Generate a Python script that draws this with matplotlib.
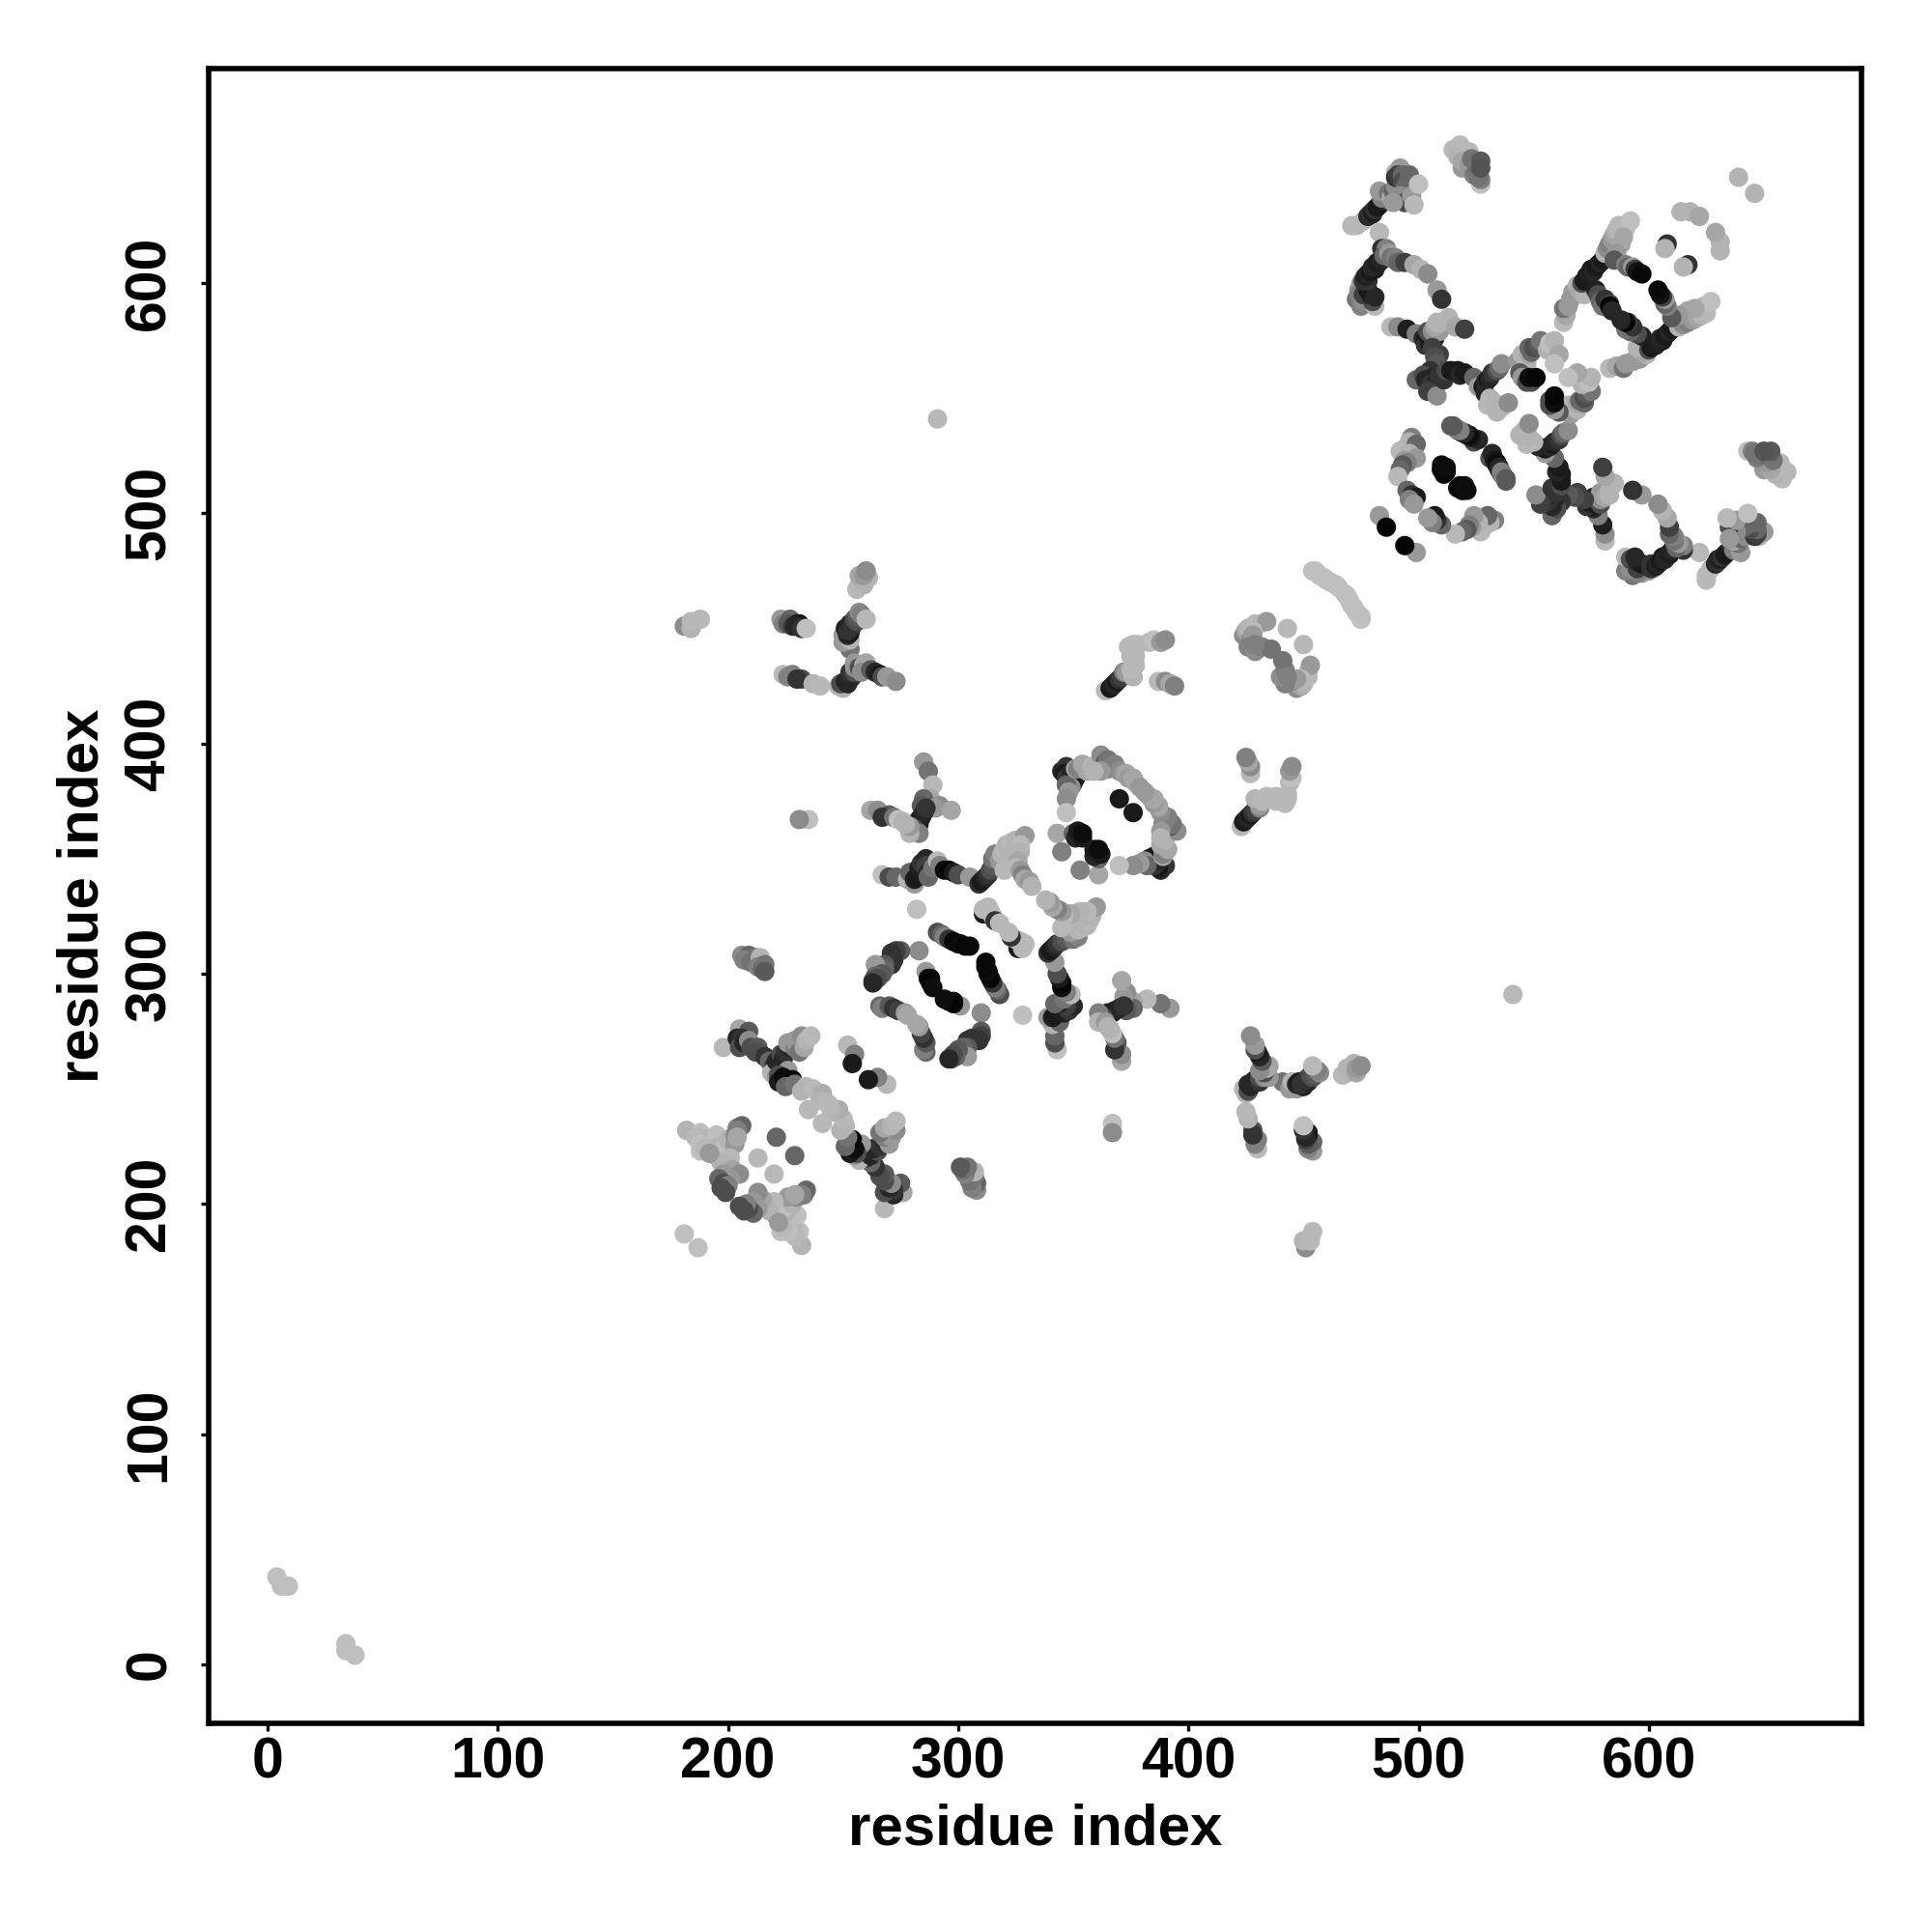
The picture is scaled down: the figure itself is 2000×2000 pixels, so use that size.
import matplotlib
matplotlib.use("Agg")
import matplotlib.pyplot as plt

# residue contacts (i, j, grey level), only j > i is kept, the map is symmetric
near_start = [(4, 38, .75), (6, 34, .75), (9, 34, .75)]
lone_contact = [(291, 541, .72)]

# helix / sheet block 480-660
block_top = [(518, 660, .72), (515, 658, .72), (522, 657, .72), (517, 655, .7), (520, 656, .72),
             (519, 650, .6), (520, 653, .5), (519, 653, .65), (522, 651, .6), (524, 647, .5),
             (525, 648, .45), (525, 652, .4), (527, 643, .75), (527, 645, .5), (523, 654, .45),
             (526, 646, .45), (527, 653, .35), (527, 650, .33)]
arm_a = [(471, 625, .72), (473, 625, .72), (476, 627, .72), (478, 629, .15), (479, 630, .2),
         (480, 630, .15), (480, 631, .12), (481, 632, .2), (482, 633, .1), (483, 634, .1),
         (484, 635, .1), (485, 636, .15), (486, 636, .2), (484, 637, .5), (483, 640, .6),
         (487, 639, .45), (488, 637, .65), (489, 640, .4), (490, 642, .55), (490, 648, .7),
         (492, 650, .6), (490, 646, .2), (491, 647, .25), (493, 647, .4), (493, 644, .3),
         (496, 647, .4), (495, 643, .4), (494, 641, .4), (492, 638, .55), (494, 635, .3),
         (489, 635, .6), (497, 638, .6), (500, 643, .75), (498, 634, .72)]
arm_b = [(483, 622, .72), (475, 600, .6), (476, 602, .7), (475, 598, .7), (474, 597, .6),
         (473, 593, .45), (474, 595, .5), (475, 590, .5), (476, 592, .55), (481, 590, .72),
         (480, 592, .3), (476, 595, .25), (479, 595, .15), (477, 599, .25), (478, 597, .1),
         (481, 594, .15), (478, 601, .2), (476, 601, .2), (477, 603, .12), (478, 604, .15),
         (479, 605, .1), (480, 606, .12), (481, 606, .1), (480, 607, .15), (482, 608, .15),
         (482, 609, .12), (484, 610, .15), (484, 615, .2), (486, 615, .5), (485, 612, .4),
         (487, 613, .6), (488, 611, .45), (490, 611, .5), (491, 609, .4), (494, 609, .25),
         (498, 608, .65), (501, 606, .7), (504, 604, .55), (508, 597, .6), (510, 593, .2)]
arm_c = [(488, 581, .72), (491, 581, .55), (495, 580, .12), (499, 578, .5), (502, 576, .15),
         (503, 575, .1), (503, 573, .2), (505, 574, .1), (504, 577, .1), (505, 578, .15),
         (507, 576, .12), (504, 579, .3), (506, 579, .55), (509, 579, .6), (507, 581, .65),
         (508, 583, .7), (510, 583, .7), (513, 585, .7), (516, 581, .65), (520, 580, .25),
         (506, 572, .25), (509, 569, .25), (507, 568, .3), (508, 565, .35), (505, 562, .2),
         (499, 558, .4), (502, 560, .3), (503, 558, .15), (506, 559, .15), (505, 556, .2),
         (508, 557, .15), (506, 554, .2), (504, 553, .25), (508, 551, .55), (509, 560, .2),
         (511, 558, .2), (512, 562, .3), (514, 562, .1), (517, 562, .1), (518, 560, .15),
         (520, 561, .1), (524, 559, .4), (526, 555, .6), (528, 555, .1), (529, 557, .15),
         (530, 558, .1), (531, 559, .15), (532, 561, .2), (534, 562, .3), (535, 563, .4),
         (536, 565, .55), (529, 552, .15), (531, 550, .7), (530, 547, .72), (533, 548, .7),
         (534, 544, .7), (536, 546, .7), (539, 548, .55)]
mid_block = [(543, 566, .6), (545, 569, .7), (547, 565, .7), (548, 569, .65), (549, 570, .4),
             (548, 572, .4), (550, 572, .3), (552, 573, .35), (553, 575, .45), (544, 561, .35),
             (545, 559, .6), (547, 557, .3), (549, 557, .3), (548, 559, .05), (551, 559, .02),
             (556, 571, .7), (557, 574, .75), (559, 575, .7), (561, 569, .65), (559, 565, .75)]
sheet_low = [(514, 538, .35), (516, 537, .4), (517, 536, .5), (519, 535, .2), (521, 534, .05),
             (523, 533, .08), (525, 532, .2), (531, 524, .3), (532, 526, .15), (533, 523, .1),
             (534, 522, .05), (535, 520, .15), (536, 518, .5), (538, 515, .35), (494, 528, .5),
             (497, 533, .5), (496, 531, .7), (499, 530, .4), (492, 527, .72), (496, 526, .7),
             (499, 524, .6), (494, 523, .6), (495, 522, .5), (493, 521, .35), (492, 519, .4),
             (491, 516, .72), (510, 521, .05), (510, 519, .05), (511, 519, .03), (512, 520, .08),
             (517, 511, .05), (518, 512, .03), (519, 510, .03), (520, 511, .05), (495, 510, .4),
             (497, 508, .2), (499, 507, .1), (496, 506, .5), (498, 504, .6), (483, 499, .6),
             (486, 494, .02)]
sheet_right = [(563, 583, .72), (564, 586, .65), (563, 589, .45), (565, 590, .6), (566, 593, .6),
               (567, 596, .6), (569, 599, .7), (570, 597, .65), (572, 595, .7), (575, 599, .65),
               (571, 600, .3), (572, 601, .1), (573, 603, .1), (574, 604, .12), (575, 606, .1),
               (576, 605, .15), (577, 607, .1), (578, 608, .1), (579, 609, .15), (580, 610, .1),
               (581, 613, .7), (582, 615, .55), (583, 617, .5), (584, 619, .6), (585, 621, .65),
               (586, 623, .7), (587, 625, .72), (588, 622, .72), (590, 624, .72), (592, 627, .75),
               (589, 620, .65), (588, 617, .65), (586, 613, .6), (585, 610, .35), (577, 597, .12),
               (578, 595, .3), (579, 592, .4), (580, 590, .45), (581, 593, .2), (583, 591, .25),
               (583, 590, .02), (584, 588, .15), (590, 608, .5), (591, 607, .4), (593, 607, .6),
               (594, 606, .25), (595, 605, .08), (597, 604, .03), (608, 617, .2), (607, 615, .7),
               (639, 646, .7), (614, 631, .7), (618, 631, .7), (622, 629, .65)]
diag_light = [(454, 475, .75), (455, 475, .75), (456, 474, .75), (457, 473, .75), (459, 472, .75),
              (460, 471, .75), (462, 470, .75), (464, 469, .75), (465, 468, .75)]

# block 180-400
cross_e = [(235, 367, .75), (231, 367, .55), (285, 392, .6), (287, 388, .45), (289, 382, .72),
           (288, 376, .65), (285, 376, .4), (284, 373, .35), (292, 373, .55), (290, 372, .6),
           (297, 371, .65), (282, 364, .2), (283, 365, .1), (283, 367, .1), (284, 368, .12),
           (285, 370, .15), (286, 372, .2), (282, 362, .25), (281, 363, .3), (283, 361, .5),
           (279, 361, .7), (279, 364, .6), (262, 371, .65), (265, 371, .55), (270, 369, .35),
           (267, 368, .2), (272, 368, .45), (274, 367, .75), (276, 366, .7), (277, 365, .7)]
cross_f = [(267, 343, .75), (270, 342, .3), (273, 342, .4), (278, 341, .7), (279, 344, .4),
           (281, 339, .6), (281, 341, .12), (282, 342, .1), (283, 343, .1), (284, 344, .1),
           (285, 345, .12), (283, 346, .12), (284, 348, .2), (286, 350, .15), (286, 347, .25),
           (287, 344, .15), (287, 342, .4), (289, 346, .45), (291, 349, .72), (292, 347, .5),
           (294, 345, .05), (296, 345, .02), (298, 344, .1), (300, 343, .3), (305, 342, .6),
           (309, 339, .2), (310, 340, .1), (311, 341, .1), (312, 342, .15), (313, 343, .2),
           (314, 345, .3), (315, 347, .35), (315, 350, .45), (316, 352, .5), (318, 349, .6),
           (319, 352, .7), (320, 354, .72), (321, 356, .7), (323, 357, .72), (325, 358, .7),
           (329, 360, .6), (327, 356, .72), (327, 353, .7), (323, 352, .7), (326, 349, .65),
           (320, 345, .72), (325, 346, .72), (327, 345, .6), (328, 343, .5), (329, 341, .65),
           (331, 340, .6), (332, 338, .7), (282, 328, .75), (311, 326, .1), (311, 328, .72),
           (313, 329, .72), (314, 327, .72), (315, 325, .72), (316, 323, .2), (318, 322, .72)]
ring_g = [(291, 318, .3), (293, 317, .4), (294, 316, .5), (296, 315, .2), (298, 314, .03),
          (300, 313, .02), (301, 313, .05), (303, 312, .03), (305, 312, .03), (283, 310, .55),
          (275, 310, .35), (273, 310, .25), (271, 309, .2), (272, 306, .2), (271, 304, .2),
          (268, 304, .35), (268, 302, .4), (265, 302, .5), (264, 304, .6), (267, 300, .35),
          (264, 299, .4), (265, 298, .3), (263, 297, .3), (263, 296, .15), (286, 301, .6),
          (288, 298, .03), (287, 298, .03), (288, 296, .02), (289, 294, .05), (266, 286, .4),
          (267, 285, .5), (270, 286, .35), (272, 285, .2), (274, 284, .25), (277, 283, .6),
          (278, 282, .65)]
ring_h = [(345, 388, .15), (347, 390, .2), (346, 387, .1), (347, 385, .2), (349, 387, .15),
          (351, 385, .1), (350, 383, .1), (349, 381, .55), (347, 382, .4), (348, 379, .6),
          (347, 376, .55), (347, 370, .75), (351, 389, .65), (352, 389, .5), (354, 391, .65),
          (356, 388, .65), (358, 390, .7), (362, 395, .55), (364, 392, .35), (365, 393, .45),
          (365, 389, .5), (368, 391, .5), (370, 388, .55), (372, 387, .6), (373, 387, .65),
          (374, 385, .6), (376, 385, .65), (377, 383, .65), (379, 381, .6), (370, 376, .1),
          (362, 388, .6), (359, 388, .7), (343, 361, .65), (345, 353, .5), (350, 361, .4),
          (351, 359, .15), (352, 362, .1), (354, 359, .1), (354, 361, .05)]
cross_i = [(206, 308, .55), (209, 308, .4), (212, 307, .45), (207, 306, .5), (210, 305, .45),
           (214, 307, .7), (213, 303, .5), (215, 302, .4), (216, 304, .45), (216, 301, .35)]
cross_j = [(198, 268, .72), (205, 276, .65), (209, 275, .35), (204, 272, .15), (206, 272, .2),
           (205, 268, .3), (207, 270, .15), (209, 271, .55), (210, 268, .3), (213, 268, .35),
           (212, 266, .3), (216, 264, .2), (218, 262, .4), (220, 260, .2), (219, 257, .7),
           (221, 262, .15), (223, 265, .3), (224, 263, .15), (225, 266, .2), (227, 268, .15),
           (228, 270, .4), (230, 268, .3), (226, 270, .6), (229, 268, .5), (229, 271, .6),
           (232, 273, .55), (231, 266, .45), (233, 268, .65), (234, 271, .7), (236, 273, .72),
           (226, 258, .6), (221, 255, .6), (222, 256, .3), (222, 253, .1), (224, 255, .05),
           (226, 252, .05), (228, 254, .02), (225, 251, .4), (229, 252, .45), (234, 251, .72),
           (232, 249, .7), (237, 250, .72), (241, 248, .68), (240, 245, .7), (244, 243, .72),
           (235, 241, .72), (252, 269, .72), (255, 265, .5), (254, 261, .1)]
corner_k = [(182, 232, .7), (188, 231, .75), (188, 223, .75), (192, 226, .5), (190, 228, .7),
            (195, 230, .75), (195, 221, .3), (196, 225, .7), (198, 224, .75), (200, 228, .7),
            (203, 226, .6), (204, 233, .5), (206, 234, .4), (203, 230, .55), (204, 232, .5),
            (204, 229, .65), (201, 220, .72), (221, 229, .4), (213, 220, .72), (197, 218, .7),
            (199, 216, .7), (202, 215, .65), (198, 213, .6), (205, 213, .55), (201, 211, .6),
            (196, 211, .4), (198, 209, .3), (200, 208, .5), (197, 207, .3), (199, 205, .3),
            (181, 187, .75), (186, 229, .72), (188, 226, .75), (190, 224, .72), (192, 222, .6)]

# long range contacts
long_m = [(256, 467, .72), (257, 469, .72), (259, 469, .7), (258, 471, .7), (261, 472, .7),
          (257, 473, .65), (259, 473, .6), (260, 475, .55)]
long_n = [(181, 451, .55), (184, 450, .7), (184, 453, .72), (188, 454, .72)]
long_o = [(223, 454, .6), (224, 452, .5), (227, 454, .4), (226, 452, .35), (228, 451, .25),
          (231, 452, .05), (230, 452, .1), (229, 451, .15), (232, 450, .2), (234, 450, .75)]
long_p = [(253, 441, .45), (250, 444, .6), (250, 447, .6), (253, 445, .7), (252, 447, .15),
          (253, 448, .1), (251, 450, .12), (252, 449, .2), (253, 452, .15), (254, 451, .2),
          (255, 454, .3), (256, 453, .3), (256, 455, .35), (257, 457, .55), (258, 456, .5),
          (260, 454, .72)]
long_q = [(224, 430, .72), (228, 430, .5), (226, 429, .5), (232, 428, .3), (230, 428, .2),
          (237, 426, .7), (240, 425, .72)]
long_r = [(248, 425, .7), (250, 424, .7), (249, 426, .3), (251, 427, .15), (252, 426, .15),
          (253, 428, .15), (254, 429, .15), (253, 431, .2), (255, 431, .3), (255, 433, .55),
          (255, 435, .6), (257, 433, .3), (259, 434, .7), (260, 435, .65), (258, 431, .55),
          (262, 432, .35), (264, 431, .15), (266, 430, .1), (267, 429, .3), (269, 429, .6),
          (273, 427, .55)]
long_s = [(364, 423, .72), (366, 424, .1), (367, 425, .12), (368, 426, .15), (369, 427, .1),
          (370, 428, .2), (371, 429, .25), (372, 431, .5), (373, 431, .6), (376, 429, .7),
          (375, 432, .72), (377, 434, .72), (375, 438, .72), (377, 438, .72), (374, 442, .72),
          (376, 443, .72), (378, 443, .72), (383, 444, .72), (385, 445, .75), (388, 444, .6),
          (390, 445, .55), (387, 427, .72), (390, 427, .55), (392, 426, .65), (394, 425, .5)]
long_t = [(424, 447, .55), (425, 449, .65), (426, 450, .7), (429, 452, .72), (431, 452, .72),
          (434, 453, .6), (443, 450, .72), (427, 445, .55), (428, 449, .72), (428, 447, .6),
          (426, 442, .5), (429, 440, .55), (432, 442, .5), (436, 441, .45), (429, 443, .5)]

all_groups = [near_start, lone_contact, block_top, arm_a, arm_b, arm_c, mid_block, sheet_low,
              sheet_right, diag_light, cross_e, cross_f, ring_g, ring_h, cross_i, cross_j,
              corner_k, long_m, long_n, long_o, long_p, long_q, long_r, long_s, long_t]

x_ticks = [0, 100, 200, 300, 400, 500, 600]
y_ticks = [0, 100, 200, 300, 400, 500, 600]

plt.rcParams['font.family'] = ['Liberation Sans', 'DejaVu Sans']
plt.rcParams['font.weight'] = 'bold'

fig = plt.figure(figsize=(10, 10), dpi=200)
ax = fig.add_axes([216 / 2000, 216 / 2000, 1711 / 2000, 1713 / 2000])

xs, ys, cs = [], [], []
for group in all_groups:
    for i, j, g in group:
        xs += [i, j]
        ys += [j, i]
        cs += [str(g), str(g)]
ax.scatter(xs, ys, s=52, c=cs, linewidths=0)

ax.set_xlim(-25.6, 692.4)
ax.set_ylim(-25.6, 693.2)
ax.set_xticks(x_ticks)
ax.set_yticks(y_ticks)
ax.tick_params(axis='x', length=3, width=1.2, labelsize=21.2, pad=2)
ax.tick_params(axis='y', length=3, width=1.2, labelsize=21.2, pad=9)
for lab in ax.get_yticklabels():
    lab.set_rotation(90)
    lab.set_va('center')
for sp in ax.spines.values():
    sp.set_linewidth(2.0)
ax.set_xlabel('residue index', fontsize=21.6, fontweight='bold', labelpad=5)
ax.set_ylabel('residue index', fontsize=21.6, fontweight='bold', labelpad=5)

fig.savefig('out.png', dpi=200)
